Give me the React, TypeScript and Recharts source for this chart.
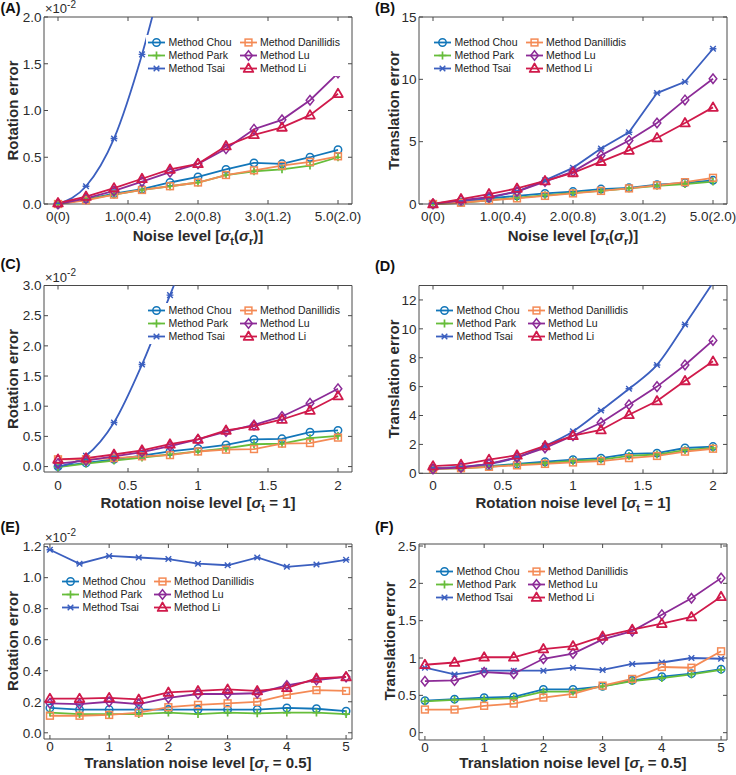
import React from 'react';
import { LineChart, Line, XAxis, YAxis, Legend, ReferenceLine } from 'recharts';

const FONT = '"Liberation Sans", Arial, Helvetica, sans-serif';
const AXIS_COLOR = '#4a4a4a';
const TEXT_COLOR = '#2b2b2b';

// ---- series definitions ----
const seriesKeys = ['chou', 'park', 'tsai', 'dan', 'lu', 'li'];
const seriesNames = ['Method Chou', 'Method Park', 'Method Tsai', 'Method Danillidis', 'Method Lu', 'Method Li'];
const seriesColors = ['#1276b9', '#66bd3a', '#3b5fbf', '#f48a55', '#8c2b97', '#d01a4b'];
const seriesMarkers = ['circle', 'plus', 'asterisk', 'square', 'diamond', 'triangle'];

// ---- x values ----
const xNoise = [0, 0.5, 1, 1.5, 2, 2.5, 3, 3.5, 4, 4.5, 5];
const xRot = [0, 0.2, 0.4, 0.6, 0.8, 1, 1.2, 1.4, 1.6, 1.8, 2];
const xTrans = [0, 0.5, 1, 1.5, 2, 2.5, 3, 3.5, 4, 4.5, 5];

// ---- tick values / labels ----
const noiseTicks = [0, 1.25, 2.5, 3.75, 5];
const noiseTickLabels = ['0(0)', '1.0(0.4)', '2.0(0.8)', '3.0(1.2)', '5.0(2.0)'];
const rotTicks = [0, 0.5, 1, 1.5, 2];
const transTicks = [0, 1, 2, 3, 4, 5];
const aYTicks = [0, 0.5, 1, 1.5, 2];
const bYTicks = [0, 5, 10, 15];
const cYTicks = [0, 0.5, 1, 1.5, 2, 2.5, 3];
const dYTicks = [0, 2, 4, 6, 8, 10, 12];
const eYTicks = [0, 0.2, 0.4, 0.6, 0.8, 1, 1.2];
const fYTicks = [0, 0.5, 1, 1.5, 2, 2.5];

// ---- Panel A: rotation error (x1e-2) vs noise level ----
const aChou = [0, 0.05, 0.11, 0.16, 0.23, 0.29, 0.37, 0.44, 0.43, 0.5, 0.58];
const aPark = [0, 0.05, 0.1, 0.15, 0.19, 0.23, 0.31, 0.35, 0.37, 0.41, 0.5];
const aTsai = [0, 0.19, 0.7, 1.6, 2.75, null, null, null, null, null, null];
const aDan = [0, 0.04, 0.1, 0.15, 0.19, 0.23, 0.31, 0.36, 0.41, 0.45, 0.51];
const aLu = [0, 0.06, 0.14, 0.24, 0.34, 0.43, 0.59, 0.8, 0.9, 1.11, 1.4];
const aLi = [0.01, 0.08, 0.17, 0.27, 0.37, 0.43, 0.62, 0.74, 0.82, 0.95, 1.18];

// ---- Panel B: translation error vs noise level ----
const bChou = [0, 0.15, 0.45, 0.65, 0.85, 1.0, 1.2, 1.3, 1.55, 1.7, 1.9];
const bPark = [0, 0.1, 0.3, 0.5, 0.7, 0.9, 1.05, 1.25, 1.45, 1.6, 1.8];
const bTsai = [0, 0.2, 0.5, 1.0, 1.9, 2.9, 4.45, 5.75, 8.9, 9.8, 12.45];
const bDan = [0, 0.1, 0.3, 0.45, 0.65, 0.85, 1.05, 1.25, 1.5, 1.75, 2.1];
const bLu = [0, 0.3, 0.55, 1.0, 1.8, 2.6, 3.9, 5.1, 6.5, 8.35, 10.05];
const bLi = [0, 0.4, 0.8, 1.25, 1.85, 2.5, 3.4, 4.3, 5.3, 6.5, 7.75];

// ---- Panel C: rotation error (x1e-2) vs rotation noise ----
const cChou = [0, 0.06, 0.12, 0.18, 0.25, 0.3, 0.36, 0.45, 0.46, 0.57, 0.6];
const cPark = [-0.01, 0.05, 0.1, 0.15, 0.2, 0.25, 0.3, 0.37, 0.38, 0.47, 0.51];
const cTsai = [0, 0.18, 0.73, 1.69, 2.84, 4.0, null, null, null, null, null];
const cDan = [0.12, 0.12, 0.14, 0.17, 0.19, 0.25, 0.28, 0.29, 0.38, 0.39, 0.48];
const cLu = [0.05, 0.1, 0.17, 0.24, 0.34, 0.45, 0.58, 0.69, 0.83, 1.05, 1.29];
const cLi = [0.12, 0.14, 0.2, 0.27, 0.37, 0.45, 0.6, 0.67, 0.78, 0.93, 1.17];

// ---- Panel D: translation error vs rotation noise ----
const dChou = [0.35, 0.4, 0.5, 0.65, 0.8, 0.95, 1.05, 1.35, 1.4, 1.75, 1.85];
const dPark = [0.3, 0.35, 0.45, 0.6, 0.7, 0.85, 0.95, 1.2, 1.3, 1.6, 1.75];
const dTsai = [0.35, 0.45, 0.65, 1.1, 1.9, 2.9, 4.35, 5.85, 7.5, 10.3, 13.2];
const dDan = [0.3, 0.35, 0.45, 0.55, 0.65, 0.75, 0.85, 1.05, 1.2, 1.5, 1.7];
const dLu = [0.3, 0.4, 0.65, 1.1, 1.75, 2.6, 3.5, 4.75, 6.0, 7.5, 9.2];
const dLi = [0.5, 0.6, 0.95, 1.25, 1.9, 2.6, 3.0, 4.05, 5.0, 6.4, 7.75];

// ---- Panel E: rotation error (x1e-2) vs translation noise ----
const eChou = [0.16, 0.15, 0.15, 0.15, 0.15, 0.15, 0.15, 0.15, 0.16, 0.155, 0.14];
const ePark = [0.13, 0.12, 0.12, 0.12, 0.13, 0.12, 0.13, 0.125, 0.13, 0.13, 0.12];
const eTsai = [1.18, 1.09, 1.14, 1.13, 1.12, 1.09, 1.08, 1.13, 1.07, 1.085, 1.115];
const eDan = [0.11, 0.11, 0.115, 0.13, 0.165, 0.18, 0.19, 0.2, 0.245, 0.275, 0.27];
const eLu = [0.19, 0.185, 0.2, 0.185, 0.225, 0.25, 0.25, 0.255, 0.305, 0.34, 0.36];
const eLi = [0.22, 0.22, 0.225, 0.215, 0.26, 0.27, 0.28, 0.27, 0.29, 0.35, 0.36];

// ---- Panel F: translation error vs translation noise ----
const fChou = [0.43, 0.45, 0.47, 0.48, 0.58, 0.58, 0.62, 0.7, 0.75, 0.79, 0.85];
const fPark = [0.42, 0.44, 0.45, 0.46, 0.55, 0.55, 0.62, 0.69, 0.73, 0.78, 0.84];
const fTsai = [0.87, 0.78, 0.83, 0.83, 0.83, 0.87, 0.84, 0.92, 0.94, 1.0, 0.99];
const fDan = [0.31, 0.31, 0.36, 0.39, 0.47, 0.52, 0.63, 0.72, 0.88, 0.87, 1.09];
const fLu = [0.69, 0.7, 0.81, 0.79, 0.99, 1.06, 1.25, 1.36, 1.58, 1.8, 2.07];
const fLi = [0.91, 0.94, 1.01, 1.01, 1.12, 1.16, 1.29, 1.38, 1.46, 1.55, 1.82];

type Num = number | null;
function buildRows(xs: number[], cols: Num[][]) {
  return xs.map((x, i) => {
    const row: any = { x };
    seriesKeys.forEach((k, j) => {
      row[k] = cols[j][i];
    });
    return row;
  });
}

const rowsA = buildRows(xNoise, [aChou, aPark, aTsai, aDan, aLu, aLi]);
const rowsB = buildRows(xNoise, [bChou, bPark, bTsai, bDan, bLu, bLi]);
const rowsC = buildRows(xRot, [cChou, cPark, cTsai, cDan, cLu, cLi]);
const rowsD = buildRows(xRot, [dChou, dPark, dTsai, dDan, dLu, dLi]);
const rowsE = buildRows(xTrans, [eChou, ePark, eTsai, eDan, eLu, eLi]);
const rowsF = buildRows(xTrans, [fChou, fPark, fTsai, fDan, fLu, fLi]);

// ---- markers ----
function Marker({ kind, cx, cy, color }: { kind: string; cx: number; cy: number; color: string }) {
  const sw = 1.5;
  switch (kind) {
    case 'circle':
      return <circle cx={cx} cy={cy} r={3.7} fill="none" stroke={color} strokeWidth={sw} />;
    case 'square':
      return <rect x={cx - 3.4} y={cy - 3.4} width={6.8} height={6.8} fill="none" stroke={color} strokeWidth={sw} />;
    case 'diamond':
      return (
        <polygon
          points={`${cx},${cy - 4.8} ${cx + 3.8},${cy} ${cx},${cy + 4.8} ${cx - 3.8},${cy}`}
          fill="none"
          stroke={color}
          strokeWidth={sw}
        />
      );
    case 'triangle':
      return (
        <polygon
          points={`${cx},${cy - 5} ${cx + 4.8},${cy + 3.4} ${cx - 4.8},${cy + 3.4}`}
          fill="none"
          stroke={color}
          strokeWidth={1.8}
          strokeLinejoin="round"
        />
      );
    case 'plus':
      return (
        <path
          d={`M${cx - 3.9},${cy}H${cx + 3.9}M${cx},${cy - 3.9}V${cy + 3.9}`}
          stroke={color}
          strokeWidth={1.7}
          fill="none"
        />
      );
    case 'asterisk':
    default:
      return (
        <path
          d={`M${cx - 2.8},${cy - 2.8}L${cx + 2.8},${cy + 2.8}M${cx - 2.8},${cy + 2.8}L${cx + 2.8},${cy - 2.8}M${cx - 3.4},${cy}H${cx + 3.4}`}
          stroke={color}
          strokeWidth={1.4}
          fill="none"
        />
      );
  }
}

const makeDot = (kind: string, color: string) => (p: any) => {
  const { cx, cy, index } = p;
  if (cx == null || cy == null || !isFinite(cx) || !isFinite(cy)) return <g key={`d-${index}`} />;
  return <Marker key={`d-${index}`} kind={kind} cx={cx} cy={cy} color={color} />;
};

// ---- frame pieces (drawn through ReferenceLine shapes, positions come from the axis scales) ----
const TICK_LEN = 4;
const vTickShape = (p: any) => {
  const x = p.x1;
  const yTop = Math.min(p.y1, p.y2);
  const yBot = Math.max(p.y1, p.y2);
  return (
    <g>
      <line x1={x} x2={x} y1={yTop} y2={yTop + TICK_LEN} stroke={AXIS_COLOR} strokeWidth={1} />
      <line x1={x} x2={x} y1={yBot} y2={yBot - TICK_LEN} stroke={AXIS_COLOR} strokeWidth={1} />
    </g>
  );
};
const hTickShape = (p: any) => {
  const y = p.y1;
  const xL = Math.min(p.x1, p.x2);
  const xR = Math.max(p.x1, p.x2);
  return (
    <g>
      <line x1={xL} x2={xL + TICK_LEN} y1={y} y2={y} stroke={AXIS_COLOR} strokeWidth={1} />
      <line x1={xR} x2={xR - TICK_LEN} y1={y} y2={y} stroke={AXIS_COLOR} strokeWidth={1} />
    </g>
  );
};

// ---- legend ----
function LegendBox() {
  const order = [0, 1, 2, 3, 4, 5];
  return (
    <div
      style={{
        background: '#ffffff',
        padding: '1px 3px 1px 2px',
        display: 'grid',
        gridTemplateColumns: '91.5px auto',
        gridTemplateRows: 'repeat(3, 13px)',
        gridAutoFlow: 'column',
        fontFamily: FONT,
      }}
    >
      {order.map((i) => (
        <div key={seriesKeys[i]} style={{ display: 'flex', alignItems: 'center', height: 13 }}>
          <svg width={17} height={13} style={{ display: 'block', flex: 'none' }}>
            <line x1={0} x2={17} y1={6.5} y2={6.5} stroke={seriesColors[i]} strokeWidth={1.8} />
            <Marker kind={seriesMarkers[i]} cx={8.5} cy={6.5} color={seriesColors[i]} />
          </svg>
          <span style={{ fontSize: 10.5, color: '#222', marginLeft: 3.5, whiteSpace: 'nowrap', lineHeight: '13px' }}>
            {seriesNames[i]}
          </span>
        </div>
      ))}
    </div>
  );
}

// ---- axis label pieces ----
function XLabelText({ kind, x, y }: { kind: string; x: number; y: number }) {
  const sub = { fontSize: 11 };
  const common = {
    x,
    y,
    textAnchor: 'middle' as const,
    fontFamily: FONT,
    fontWeight: 'bold' as const,
    fontSize: 15,
    fill: TEXT_COLOR,
  };
  if (kind === 'noise') {
    return (
      <text {...common}>
        <tspan>Noise level [</tspan>
        <tspan fontStyle="italic">σ</tspan>
        <tspan {...sub} dy={4}>t</tspan>
        <tspan dy={-4}>(</tspan>
        <tspan fontStyle="italic">σ</tspan>
        <tspan {...sub} dy={4}>r</tspan>
        <tspan dy={-4}>)]</tspan>
      </text>
    );
  }
  if (kind === 'rot') {
    return (
      <text {...common}>
        <tspan>Rotation noise level [</tspan>
        <tspan fontStyle="italic">σ</tspan>
        <tspan {...sub} dy={4}>t</tspan>
        <tspan dy={-4}> = 1]</tspan>
      </text>
    );
  }
  return (
    <text {...common}>
      <tspan>Translation noise level [</tspan>
      <tspan fontStyle="italic">σ</tspan>
      <tspan {...sub} dy={4}>r</tspan>
      <tspan dy={-4}> = 0.5]</tspan>
    </text>
  );
}

type PanelCfg = {
  tag: string;
  chartLeft: number;
  chartTop: number;
  chartH: number;
  plot: { l: number; t: number; r: number; b: number };
  xDomain: [number, number];
  xTicks: number[];
  xFmt: (v: number) => string;
  yDomain: [number, number];
  yTicks: number[];
  yFmt: (v: number) => string;
  xKind: string;
  xLabelY: number;
  yLabel: string;
  yLabelX: number;
  yLabelY: number;
  tagX: number;
  tagY: number;
  exp?: { x: number; y: number; supY: number };
  legend: { x: number; y: number };
  tsaiSmooth: boolean;
  xTickMargin: number;
};

const fmtNoise = (v: number) => {
  const i = noiseTicks.indexOf(v);
  return i >= 0 ? noiseTickLabels[i] : '';
};
const fmt1 = (v: number) => v.toFixed(1);
const fmtG = (v: number) => String(v);

const panels: { cfg: PanelCfg; rows: any[] }[] = [
  {
    rows: rowsA,
    cfg: {
      tag: '(A)', chartLeft: 0, chartTop: 0, chartH: 256,
      plot: { l: 44, t: 17, r: 352, b: 204 },
      xDomain: [-0.25, 5.25], xTicks: noiseTicks, xFmt: fmtNoise,
      yDomain: [0, 2], yTicks: aYTicks, yFmt: fmt1,
      xKind: 'noise', xLabelY: 241, yLabel: 'Rotation error', yLabelX: 18, yLabelY: 110.5,
      tagX: 0.5, tagY: 12.5, exp: { x: 45, y: 13, supY: 7.5 },
      legend: { x: 148, y: 42.7 }, tsaiSmooth: true, xTickMargin: 7.5,
    },
  },
  {
    rows: rowsB,
    cfg: {
      tag: '(B)', chartLeft: 368, chartTop: 0, chartH: 256,
      plot: { l: 419, t: 17, r: 727, b: 204 },
      xDomain: [-0.25, 5.25], xTicks: noiseTicks, xFmt: fmtNoise,
      yDomain: [0, 15], yTicks: bYTicks, yFmt: fmtG,
      xKind: 'noise', xLabelY: 241, yLabel: 'Translation error', yLabelX: 399, yLabelY: 110.5,
      tagX: 375, tagY: 12.5,
      legend: { x: 434, y: 42.5 }, tsaiSmooth: false, xTickMargin: 7.5,
    },
  },
  {
    rows: rowsC,
    cfg: {
      tag: '(C)', chartLeft: 0, chartTop: 256, chartH: 258,
      plot: { l: 44, t: 285.5, r: 352, b: 472 },
      xDomain: [-0.1, 2.1], xTicks: rotTicks, xFmt: fmtG,
      yDomain: [-0.09, 3], yTicks: cYTicks, yFmt: fmt1,
      xKind: 'rot', xLabelY: 507.5, yLabel: 'Rotation error', yLabelX: 18, yLabelY: 379,
      tagX: 0.5, tagY: 268.5, exp: { x: 45, y: 281.7, supY: 275.5 },
      legend: { x: 148, y: 310 }, tsaiSmooth: true, xTickMargin: 8,
    },
  },
  {
    rows: rowsD,
    cfg: {
      tag: '(D)', chartLeft: 368, chartTop: 256, chartH: 258,
      plot: { l: 419, t: 285.5, r: 727, b: 473.3 },
      xDomain: [-0.1, 2.1], xTicks: rotTicks, xFmt: fmtG,
      yDomain: [0, 13], yTicks: dYTicks, yFmt: fmtG,
      xKind: 'rot', xLabelY: 507.5, yLabel: 'Translation error', yLabelX: 399, yLabelY: 379,
      tagX: 375, tagY: 271,
      legend: { x: 436, y: 310 }, tsaiSmooth: true, xTickMargin: 7,
    },
  },
  {
    rows: rowsE,
    cfg: {
      tag: '(E)', chartLeft: 0, chartTop: 514, chartH: 261,
      plot: { l: 44, t: 544, r: 352, b: 739 },
      xDomain: [-0.1, 5.1], xTicks: transTicks, xFmt: fmtG,
      yDomain: [-0.04, 1.217], yTicks: eYTicks, yFmt: fmt1,
      xKind: 'trans', xLabelY: 768, yLabel: 'Rotation error', yLabelX: 18, yLabelY: 641,
      tagX: 0.5, tagY: 531.5, exp: { x: 45, y: 541.5, supY: 536 },
      legend: { x: 62, y: 581 }, tsaiSmooth: false, xTickMargin: 2.5,
    },
  },
  {
    rows: rowsF,
    cfg: {
      tag: '(F)', chartLeft: 368, chartTop: 514, chartH: 261,
      plot: { l: 419, t: 544, r: 727, b: 740 },
      xDomain: [-0.1, 5.1], xTicks: transTicks, xFmt: fmtG,
      yDomain: [-0.098, 2.527], yTicks: fYTicks, yFmt: fmtG,
      xKind: 'trans', xLabelY: 768, yLabel: 'Translation error', yLabelX: 394.5, yLabelY: 641,
      tagX: 375, tagY: 532,
      legend: { x: 436, y: 571 }, tsaiSmooth: false, xTickMargin: 2.5,
    },
  },
];

const CHART_W = 368;

function Panel({ cfg, rows }: { cfg: PanelCfg; rows: any[] }) {
  const yW = cfg.plot.l - cfg.chartLeft;
  const mTop = cfg.plot.t - cfg.chartTop;
  const mRight = cfg.chartLeft + CHART_W - cfg.plot.r;
  const xH = cfg.chartTop + cfg.chartH - cfg.plot.b;
  const ox = cfg.chartLeft;
  const oy = cfg.chartTop;
  const tickStyle = { fill: TEXT_COLOR, fontSize: 13.5, fontFamily: FONT };

  const xLabel = () => <XLabelText kind={cfg.xKind} x={(cfg.plot.l + cfg.plot.r) / 2 - ox} y={cfg.xLabelY - oy} />;
  const yLabel = () => (
    <g>
      <text
        x={cfg.yLabelX - ox}
        y={cfg.yLabelY - oy}
        transform={`rotate(-90, ${cfg.yLabelX - ox}, ${cfg.yLabelY - oy})`}
        textAnchor="middle"
        fontFamily={FONT}
        fontWeight="bold"
        fontSize={15}
        fill={TEXT_COLOR}
      >
        {cfg.yLabel}
      </text>
      <text x={cfg.tagX - ox} y={cfg.tagY - oy} fontFamily={FONT} fontWeight="bold" fontSize={14.5} fill="#111">
        {cfg.tag}
      </text>
      {cfg.exp ? (
        <text x={cfg.exp.x - ox} y={cfg.exp.y - oy} fontFamily={FONT} fontSize={13} fill={TEXT_COLOR}>
          <tspan>×10</tspan>
          <tspan fontSize={10} dy={cfg.exp.supY - cfg.exp.y}>-2</tspan>
        </text>
      ) : null}
    </g>
  );

  return (
    <div style={{ position: 'absolute', left: cfg.chartLeft, top: cfg.chartTop, width: CHART_W, height: cfg.chartH }}>
      <LineChart
        width={CHART_W}
        height={cfg.chartH}
        data={rows}
        margin={{ top: mTop, right: mRight, bottom: 0, left: 0 }}
      >
        <XAxis
          xAxisId="b"
          dataKey="x"
          type="number"
          domain={cfg.xDomain}
          ticks={cfg.xTicks}
          tickFormatter={cfg.xFmt}
          interval={0}
          height={xH}
          tickLine={false}
          tickSize={0}
          tickMargin={cfg.xTickMargin}
          stroke={AXIS_COLOR}
          tick={tickStyle}
          label={xLabel}
        />
        <YAxis
          yAxisId="l"
          type="number"
          domain={cfg.yDomain}
          ticks={cfg.yTicks}
          tickFormatter={cfg.yFmt}
          interval={0}
          width={yW}
          tickLine={false}
          tickSize={0}
          tickMargin={2.5}
          stroke={AXIS_COLOR}
          tick={tickStyle}
          label={yLabel}
        />
        <YAxis yAxisId="t" type="number" domain={cfg.yDomain} allowDataOverflow hide />
        {/* frame: top and right edges, plus inward tick marks on all four sides */}
        <ReferenceLine xAxisId="b" yAxisId="l" y={cfg.yDomain[1]} stroke={AXIS_COLOR} strokeWidth={1} />
        <ReferenceLine xAxisId="b" yAxisId="l" x={cfg.xDomain[1]} stroke={AXIS_COLOR} strokeWidth={1} />
        {cfg.xTicks.map((t) => (
          <ReferenceLine key={`vx-${t}`} xAxisId="b" yAxisId="l" x={t} shape={vTickShape} />
        ))}
        {cfg.yTicks.map((t) => (
          <ReferenceLine key={`hy-${t}`} xAxisId="b" yAxisId="l" y={t} shape={hTickShape} />
        ))}
        {seriesKeys.map((k, i) => (
          <Line
            key={k}
            xAxisId="b"
            yAxisId={k === 'tsai' ? 't' : 'l'}
            dataKey={k}
            name={seriesNames[i]}
            type={k === 'tsai' && cfg.tsaiSmooth ? 'monotone' : 'linear'}
            stroke={seriesColors[i]}
            strokeWidth={1.8}
            dot={makeDot(seriesMarkers[i], seriesColors[i])}
            activeDot={false}
            isAnimationActive={false}
            connectNulls={false}
          />
        ))}
        <Legend
          layout="horizontal"
          verticalAlign="middle"
          align="center"
          content={() => <LegendBox />}
          wrapperStyle={{
            left: cfg.legend.x - ox - 2,
            top: cfg.legend.y - 6.5 - oy - 1,
            width: 'auto',
            height: 'auto',
            lineHeight: 'normal',
          }}
        />
      </LineChart>
    </div>
  );
}

export default function App() {
  return (
    <div
      style={{
        position: 'absolute',
        left: 0,
        top: 0,
        width: 736,
        height: 775,
        background: '#ffffff',
        overflow: 'hidden',
      }}
    >
      {panels.map((p) => (
        <Panel key={p.cfg.tag} cfg={p.cfg} rows={p.rows} />
      ))}
    </div>
  );
}
